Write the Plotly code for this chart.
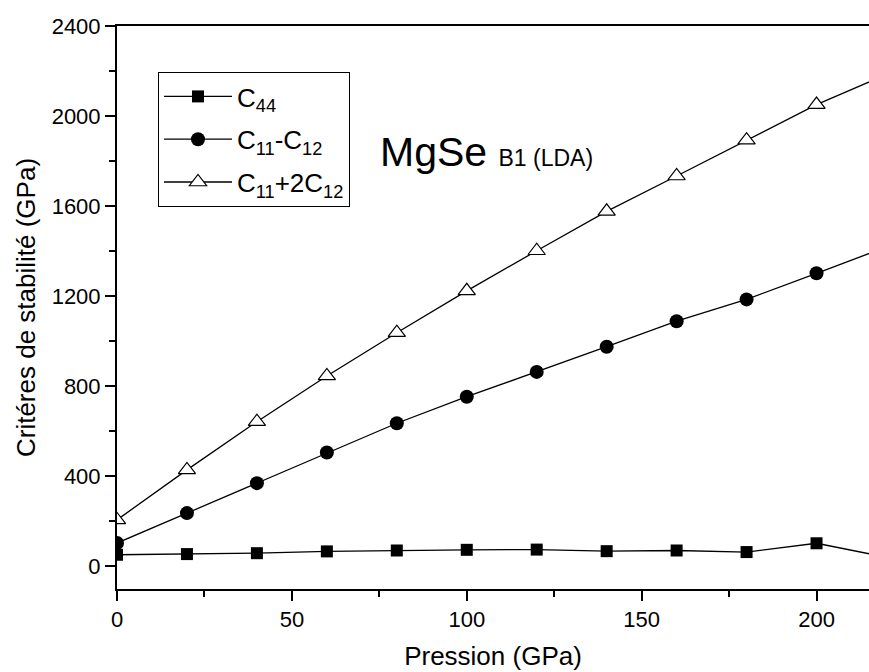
import plotly.graph_objects as go

# Pressure points (GPa)
pression = [0, 20, 40, 60, 80, 100, 120, 140, 160, 180, 200, 220]

# Elastic stability criteria (GPa), MgSe B1 phase, LDA
c44 = [52, 55, 59, 67, 71, 74, 75, 68, 71, 64, 103, 41]
c11_minus_c12 = [104, 237, 370, 506, 636, 754, 864, 976, 1089, 1186, 1302, 1419]
c11_plus_2c12 = [207, 429, 643, 846, 1038, 1224, 1402, 1577, 1734, 1893, 2051, 2185]

series_names = ["C<sub>44</sub>", "C<sub>11</sub>-C<sub>12</sub>", "C<sub>11</sub>+2C<sub>12</sub>"]

x_ticks = [0, 50, 100, 150, 200]
y_ticks = [0, 400, 800, 1200, 1600, 2000, 2400]

FONT = "Liberation Sans, Arial, sans-serif"

# Margins in pixels; the label is positioned using the same plot box
ML, MR, MT, MB = 117, 0, 26, 83
W, H = 869, 672
plot_w = W - ML - MR
plot_h = H - MT - MB

fig = go.Figure()

fig.add_trace(go.Scatter(
    x=pression, y=c44, name=series_names[0], mode="lines+markers",
    line=dict(color="black", width=1.3),
    marker=dict(symbol="square", size=12, color="black"),
    legendgroup="a",
))
fig.add_trace(go.Scatter(
    x=pression, y=c11_minus_c12, name=series_names[1], mode="lines+markers",
    line=dict(color="black", width=1.3),
    marker=dict(symbol="circle", size=14, color="black"),
    legendgroup="b",
))
fig.add_trace(go.Scatter(
    x=pression, y=c11_plus_2c12, name=series_names[2], mode="lines+markers",
    line=dict(color="black", width=1.3),
    marker=dict(symbol="triangle-up", size=15, color="white",
                line=dict(color="black", width=1.2)),
    legendgroup="c",
))

fig.add_annotation(
    x=(378 - ML) / plot_w, y=(H - MB - 152) / plot_h, xref="paper", yref="paper",
    showarrow=False, text="MgSe <span style='font-size:23px'>B1 (LDA)</span>",
    font=dict(family=FONT, size=41, color="black"),
    xanchor="left", yanchor="middle",
)

fig.update_layout(
    width=W, height=H,
    margin=dict(l=ML, r=MR, t=MT, b=MB),
    paper_bgcolor="white", plot_bgcolor="white",
    font=dict(family=FONT, color="black"),
    showlegend=True,
    legend=dict(
        x=(158 - ML) / plot_w, y=(H - MB - 72) / plot_h, xanchor="left", yanchor="top",
        bordercolor="black", borderwidth=1, bgcolor="white",
        font=dict(family=FONT, size=26, color="black"),
        traceorder="grouped", tracegroupgap=6, itemwidth=68,
    ),
    xaxis=dict(
        range=[0, 215], tickvals=x_ticks, ticks="outside", ticklen=10, tickwidth=2,
        tickcolor="black", showline=True, linecolor="black", linewidth=2,
        mirror=True, showgrid=False, zeroline=False,
        tickfont=dict(family=FONT, size=22, color="black"),
        minor=dict(dtick=25, ticks="outside", ticklen=6, tickwidth=2, tickcolor="black", showgrid=False),
        title=dict(text="Pression (GPa)", font=dict(family=FONT, size=26, color="black"), standoff=15),
    ),
    yaxis=dict(
        range=[-100, 2400], tickvals=y_ticks, ticks="outside", ticklen=10, tickwidth=2,
        tickcolor="black", showline=True, linecolor="black", linewidth=2,
        showgrid=False, zeroline=False,
        tickfont=dict(family=FONT, size=22, color="black"),
        minor=dict(dtick=200, ticks="outside", ticklen=6, tickwidth=2, tickcolor="black", showgrid=False),
        title=dict(text="Critéres de stabilité (GPa)", font=dict(family=FONT, size=26, color="black"), standoff=9),
    ),
)

fig.write_html("out.html")
